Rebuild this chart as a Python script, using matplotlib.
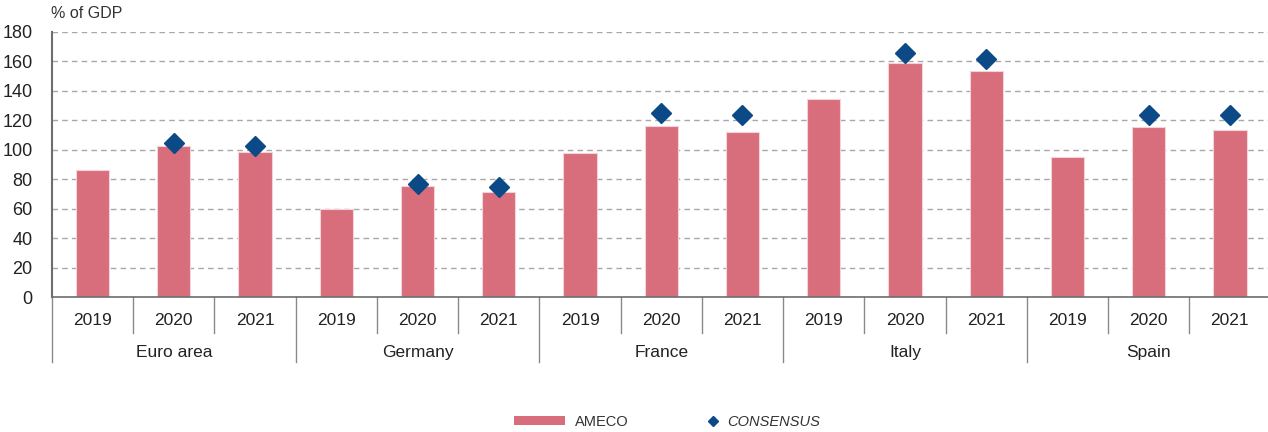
import matplotlib.pyplot as plt
from matplotlib.patches import Patch
from matplotlib.lines import Line2D
import numpy as np

plt.rcParams['font.family'] = ['Liberation Sans', 'DejaVu Sans']

countries = ['Euro area', 'Germany', 'France', 'Italy', 'Spain']
years = ['2019', '2020', '2021']
# AMECO values, country by country (2019, 2020, 2021)
ameco = [86, 102.5, 98.5,
         59.5, 75.5, 71.5,
         98, 116, 112,
         134.5, 159, 153.5,
         95, 115.5, 113.5]
# Consensus forecasts (no value for 2019)
consensus = [np.nan, 104.7, 102.7,
             np.nan, 77, 74.7,
             np.nan, 125, 123.3,
             np.nan, 165.7, 161.7,
             np.nan, 123.3, 123.5]

bar_col = '#D86E7C'
dia_col = '#0B4A87'
grey = '#6E6E6E'

fig = plt.figure(figsize=(12.68, 4.32), dpi=100)
ax = fig.add_axes([0.041, 0.3125, 0.961, 0.6135])

n = len(ameco)
x = np.arange(n)
ax.bar(x, ameco, width=0.41, color=bar_col, edgecolor='#F4D3D8', linewidth=0.8, zorder=2)
ax.plot(x, consensus, linestyle='none', marker='D', ms=10.5, color=dia_col, zorder=3)

ax.set_xlim(-0.5, n - 0.5)
ax.set_ylim(0, 180)
ax.set_yticks(range(0, 181, 20))
ax.yaxis.grid(True, linestyle=(0, (4, 3)), color='#A8A8A8', linewidth=1)
ax.set_axisbelow(True)
ax.set_xticks([])
ax.tick_params(axis='y', length=0, labelsize=13, pad=14, colors='#222222')

for s in ['top', 'right']:
    ax.spines[s].set_visible(False)
ax.spines['left'].set_color(grey)
ax.spines['left'].set_linewidth(1.5)
ax.spines['bottom'].set_color(grey)
ax.spines['bottom'].set_linewidth(1.2)

ax.text(-0.001, 1.04, '% of GDP', transform=ax.transAxes, fontsize=11.5, color='#333333',
        ha='left', va='bottom')

# category axis: years then countries
trans = ax.get_xaxis_transform()
for i in range(n):
    ax.text(i, -0.09, years[i % 3], transform=trans, ha='center', va='center',
            fontsize=12.5, color='#222222')
for i in range(n + 1):
    low = -0.245 if i % 3 == 0 else -0.136
    ax.plot([i - 0.5, i - 0.5], [0, low], transform=trans, color='#8A8A8A',
            linewidth=1, clip_on=False)
for j, c in enumerate(countries):
    ax.text(3 * j + 1, -0.211, c, transform=trans, ha='center', va='center',
            fontsize=12.5, color='#222222')

leg_font = {'family': ['Liberation Sans Narrow', 'Liberation Sans'], 'size': 10.5}
leg1 = fig.legend([Patch(facecolor=bar_col, edgecolor='none')], ['AMECO'],
                  loc='center left', bbox_to_anchor=(0.4054, 0.024), frameon=False,
                  prop=leg_font, handlelength=3.5, handleheight=0.65,
                  handletextpad=0.7, borderpad=0, borderaxespad=0)
leg2 = fig.legend([Line2D([], [], linestyle='none', marker='D', ms=5, color=dia_col)],
                  ['CONSENSUS'], loc='center left', bbox_to_anchor=(0.5568, 0.024),
                  frameon=False, prop=leg_font, handlelength=1, handletextpad=0.45,
                  borderpad=0, borderaxespad=0)
leg2.get_texts()[0].set_fontstyle('italic')
for lg in (leg1, leg2):
    for t in lg.get_texts():
        t.set_color('#333333')

fig.savefig('out.png', dpi=100)
